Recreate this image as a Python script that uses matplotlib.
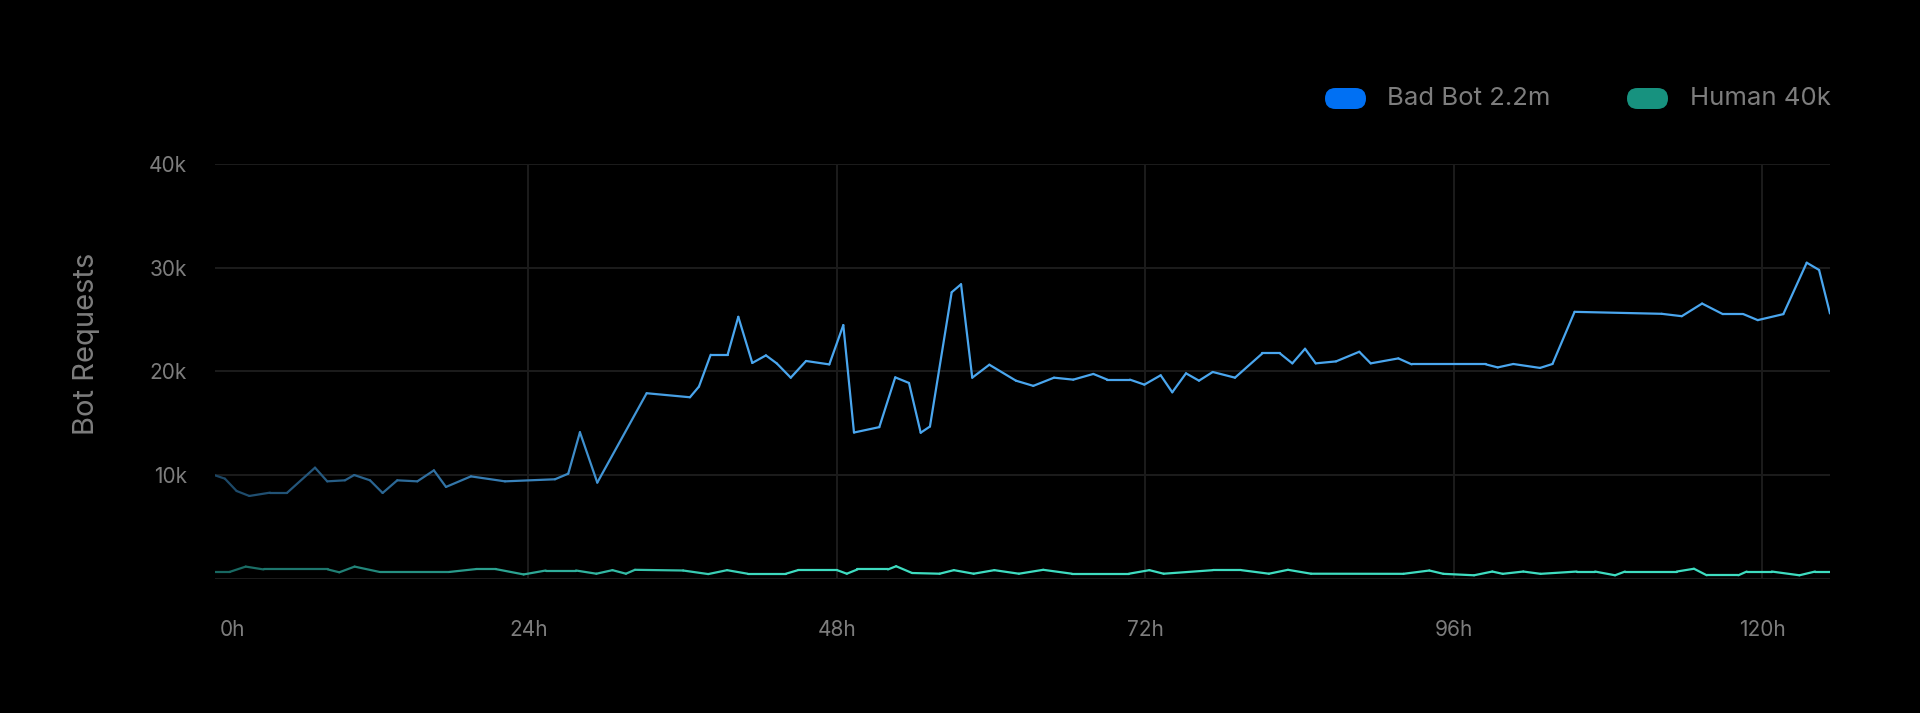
import numpy as np
import matplotlib
matplotlib.use("Agg")
import matplotlib.pyplot as plt
from matplotlib.collections import LineCollection
from matplotlib.colors import LinearSegmentedColormap
from matplotlib.patches import FancyBboxPatch

plt.rcParams['font.family'] = ['Inter', 'DejaVu Sans']

# hours since start / requests
bot_hours = [-0.37, 0.40, 1.31, 2.30, 3.91, 5.25, 7.41, 8.36, 9.74, 10.46,
             11.69, 12.67, 13.81, 15.37, 16.66, 17.60, 19.54, 22.19, 26.08, 27.11,
             28.02, 29.37, 33.21, 36.58, 37.28, 38.19, 39.51, 40.34, 41.43, 42.49,
             43.33, 44.42, 45.61, 47.42, 48.51, 49.34, 51.31, 52.55, 53.62, 54.53,
             55.25, 56.94, 57.67, 58.54, 59.87, 61.94, 63.29, 64.90, 66.40, 67.96,
             69.05, 70.81, 71.93, 73.20, 74.10, 75.17, 76.18, 77.25, 78.98, 81.11,
             82.48, 83.44, 84.43, 85.26, 86.84, 88.65, 89.54, 91.69, 92.73, 98.51,
             99.42, 100.63, 102.71, 103.68, 105.40, 112.18, 113.74, 115.32, 116.93, 118.53,
             119.65, 121.64, 123.46, 124.42, 125.27]
bot_requests = [9970, 9650, 8460, 7980, 8300, 8300, 10710, 9390, 9490, 10000,
                9490, 8270, 9490, 9390, 10450, 8850, 9870, 9390, 9590, 10130,
                14130, 9270, 17890, 17500, 18530, 21600, 21600, 25260, 20810, 21540,
                20770, 19390, 21000, 20670, 24460, 14100, 14620, 19420, 18880, 14080,
                14680, 27630, 28400, 19390, 20640, 19100, 18600, 19390, 19200, 19750,
                19200, 19200, 18720, 19620, 17980, 19810, 19100, 19940, 19390, 21730,
                21730, 20770, 22180, 20770, 20960, 21890, 20770, 21250, 20670, 20670,
                20380, 20710, 20330, 20710, 25740, 25550, 25320, 26540, 25520, 25520,
                24940, 25520, 30480, 29780, 25580]

human_hours = [-0.34, 0.76, 2.02, 3.41, 8.41, 9.30, 10.49, 12.43, 17.86, 19.93,
               21.47, 23.64, 25.36, 27.71, 29.30, 30.55, 31.60, 32.30, 36.05, 38.00,
               39.47, 41.06, 44.05, 44.98, 48.03, 48.78, 49.61, 51.98, 52.62, 53.86,
               56.00, 57.11, 58.65, 60.26, 62.17, 64.06, 66.29, 70.73, 72.32, 73.43,
               77.26, 79.48, 81.62, 83.10, 84.90, 92.08, 94.10, 95.19, 97.58, 99.00,
               99.81, 101.41, 102.76, 105.57, 106.99, 108.55, 109.32, 113.35, 114.69, 115.68,
               118.14, 118.79, 120.74, 122.89, 124.11, 125.27]
human_requests = [652, 652, 1167, 893, 893, 618, 1167, 652, 652, 927,
                  927, 412, 790, 790, 481, 824, 481, 858, 790, 446,
                  824, 481, 481, 824, 824, 481, 893, 893, 1202, 549,
                  481, 824, 481, 824, 481, 858, 481, 481, 824, 481,
                  824, 824, 481, 858, 481, 470, 790, 470, 330, 690,
                  470, 690, 470, 690, 690, 330, 690, 690, 960, 330,
                  330, 690, 690, 330, 690, 690]

x_ticks = [0, 24, 48, 72, 96, 120]
x_labels = ['0h', '24h', '48h', '72h', '96h', '120h']
y_ticks = [0, 10000, 20000, 30000, 40000]
y_labels = ['', '10k', '20k', '30k', '40k']

legend_names = ['Bad Bot 2.2m', 'Human 40k']
legend_colors = ['#0070f3', '#17927f']

BG = '#000000'
GRID = '#1c1c1c'
TEXT = '#7d7d7d'

fig = plt.figure(figsize=(19.2, 7.13), dpi=100, facecolor=BG)
ax = fig.add_axes([215 / 1920, 1 - 578.7 / 713, (1830 - 215) / 1920, (578.7 - 164) / 713])
ax.set_facecolor(BG)


def gradient_line(ax, x, y, dark, bright, ramp_end, lw):
    # color fades in from left to right
    x = np.asarray(x, float)
    y = np.asarray(y, float)
    pts = np.column_stack([x, y]).reshape(-1, 1, 2)
    segs = np.concatenate([pts[:-1], pts[1:]], axis=1)
    cmap = LinearSegmentedColormap.from_list('g', [(0, dark), (ramp_end, bright), (1, bright)])
    mid = (x[:-1] + x[1:]) / 2
    t = (mid - x.min()) / (x.max() - x.min())
    lc = LineCollection(segs, colors=cmap(t), linewidths=lw, capstyle='round', joinstyle='miter')
    ax.add_collection(lc)


gradient_line(ax, bot_hours, bot_requests, '#1c4664', '#4aa6ee', 0.3, 1.6)
gradient_line(ax, human_hours, human_requests, '#186660', '#3edcc0', 0.35, 1.6)

ax.set_xlim(min(bot_hours), max(bot_hours))
ax.set_ylim(0, 40000)

ax.set_xticks(x_ticks)
ax.set_xticklabels(x_labels)
ax.set_yticks(y_ticks)
ax.set_yticklabels(y_labels)
ax.tick_params(axis='both', length=0, labelsize=15, labelcolor=TEXT)
ax.tick_params(axis='x', pad=30)
ax.tick_params(axis='y', pad=20)
ax.get_xticklabels()[0].set_horizontalalignment('left')

ax.grid(True, color=GRID, linewidth=1.4)
ax.set_axisbelow(True)
ax.get_xgridlines()[0].set_visible(False)
for s in ax.spines.values():
    s.set_visible(False)

fig.text(86 / 1920, 1 - 344 / 713, 'Bot Requests', rotation=90, ha='center', va='center',
         fontsize=21, color=TEXT)

# legend with pill swatches, drawn in pixel coords
lax = fig.add_axes([0, 0, 1, 1], facecolor='none')
lax.set_xlim(0, 1920)
lax.set_ylim(713, 0)
lax.axis('off')
pill_x = [1325, 1627]
text_x = [1387, 1690]
for px, tx, name, col in zip(pill_x, text_x, legend_names, legend_colors):
    lax.add_patch(FancyBboxPatch((px, 88), 41, 21, boxstyle='round,pad=0,rounding_size=10.5',
                                 facecolor=col, edgecolor='none'))
    lax.text(tx, 98.5, name, ha='left', va='center', fontsize=18.5, color=TEXT)

fig.savefig('out.png', dpi=100, facecolor=BG)
